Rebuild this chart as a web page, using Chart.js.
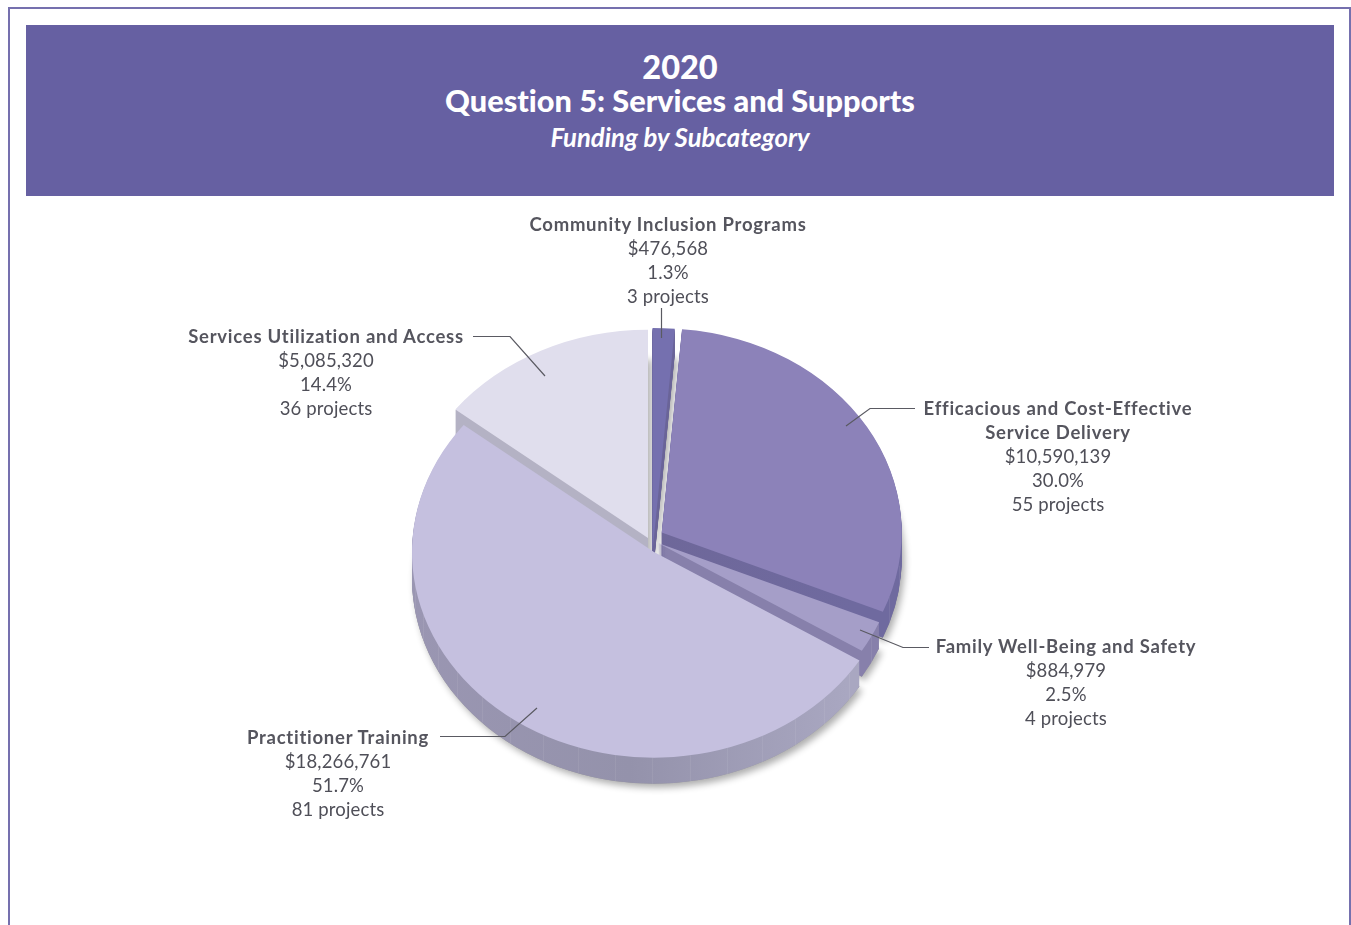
<!DOCTYPE html>
<html>
<head>
<meta charset="utf-8">
<title>2020 Question 5: Services and Supports</title>
<script src="https://cdn.jsdelivr.net/npm/chart.js@4"></script>
<style>
  html, body { margin:0; padding:0; background:#fff; }
  body { width:1351px; height:925px; position:relative; overflow:hidden; font-family:'Lato',sans-serif; color:#4f4f58; font-variant-ligatures:none; }
  #frame { position:absolute; left:8px; top:7px; width:1343px; height:930px; border:2px solid #7570ae; box-sizing:border-box; }
  #head { position:absolute; left:26px; top:25px; width:1308px; height:171px; background:#6660a2; color:#fff; text-align:center; }
  #head div { position:absolute; left:0; width:1308px; white-space:nowrap; }
  #chart { position:absolute; left:0; top:0; }
  .lbl { position:absolute; transform:translateX(-50%); text-align:center; font-size:18.5px; line-height:24px; white-space:nowrap; letter-spacing:0.15px; }
  .lbl b { font-weight:700; letter-spacing:0.75px; color:#55555e; }
</style>
</head>
<body>
<div id="frame"></div>
<div id="head">
  <div style="top:24px;font:900 32.5px/36px Lato,sans-serif;font-variant-ligatures:none">2020</div>
  <div style="top:58px;font:900 30.7px/36px Lato,sans-serif;font-variant-ligatures:none">Question 5: Services and Supports</div>
  <div style="top:94px;font:italic 700 25.7px/36px Lato,sans-serif;font-variant-ligatures:none">Funding by Subcategory</div>
</div>
<canvas id="chart" width="1351" height="925"></canvas>
<script>
const categories = ['Community Inclusion Programs','Efficacious and Cost-Effective Service Delivery','Family Well-Being and Safety','Practitioner Training','Services Utilization and Access'];
const funding    = [476568, 10590139, 884979, 18266761, 5085320];
const percents   = ['1.3%','30.0%','2.5%','51.7%','14.4%'];
const projects   = [3, 55, 4, 81, 36];

const topColors  = ['#7570af','#8c82b9','#a59ec8','#c5c0df','#e0deed'];
const sideColors = [
  ['#6a6498','#6a6498','#6a6498'],
  ['#6e6799','#6e6799','#6f6a9f'],
  ['#8780ab','#8780ab','#8780ab'],
  ['#9a96b2','#9492ab','#a9a7c1'],
  ['#b4b2c4','#b4b2c4','#b4b2c4'],
];

// page layout for each slice: apex on screen + radius, the picture is a tilted pie with exploded slices
const SQUASH = 0.85, DEPTH = 26, SEAM_STEP = Math.PI / 20;
const sliceGeom = [
  { x:652.5, y:551.5, r:263 },
  { x:661.7, y:532.5, r:240 },
  { x:658,   y:543,   r:240 },
  { x:654,   y:552,   r:242 },
  { x:648,   y:538,   r:245 },
];
const paintOrder = [4, 0, 1, 2, 3];

// leader lines and label anchors, all on screen
const leaders = [
  { tip:[661.5,338], elbow:[661.5,310], end:[661.5,308], lx:668,  ly:212, split:null },
  { tip:[846,426],   elbow:[870,408.5], end:[915,408.5], lx:1058, ly:396, split:'Service Delivery' },
  { tip:[860,630],   elbow:[903,647.5], end:[929,647.5], lx:1066, ly:634, split:null },
  { tip:[537,708],   elbow:[505,736.5], end:[440,736.5], lx:338,  ly:725, split:null },
  { tip:[545,376],   elbow:[510,336.5], end:[473,336.5], lx:326,  ly:324, split:null },
];

function wedge(ctx, a, dy) {
  const y = a.y + dy / SQUASH;
  ctx.beginPath();
  ctx.moveTo(a.x, y);
  ctx.arc(a.x, y, a.outerRadius, a.startAngle, a.endAngle);
  ctx.closePath();
}

// faint vertical seams on the front facing rim
function seams(ctx, a) {
  ctx.strokeStyle = 'rgba(255,255,255,0.08)';
  ctx.lineWidth = 1;
  for (let t = a.startAngle + SEAM_STEP / 2; t < a.endAngle; t += SEAM_STEP) {
    if (Math.sin(t) <= 0.05) continue;
    const x = Math.round(a.x + a.outerRadius * Math.cos(t)) + 0.5;
    const y = a.y + a.outerRadius * Math.sin(t);
    ctx.beginPath();
    ctx.moveTo(x, y);
    ctx.lineTo(x, y + DEPTH / SQUASH);
    ctx.stroke();
  }
}

const tiltedPie = {
  id: 'tiltedPie',
  beforeDatasetDraw(chart) {
    const ctx = chart.ctx, arcs = chart.getDatasetMeta(0).data;
    arcs.forEach((a, i) => {
      a.x = sliceGeom[i].x;
      a.y = sliceGeom[i].y / SQUASH;
      a.outerRadius = sliceGeom[i].r;
    });
    ctx.save();
    ctx.scale(1, SQUASH);

    // soft shadow under everything first
    ctx.save();
    ctx.shadowColor = 'rgba(0,0,0,0.32)';
    ctx.shadowBlur = 7;
    ctx.shadowOffsetX = 3;
    ctx.shadowOffsetY = 4;
    ctx.fillStyle = '#999';
    paintOrder.forEach(i => { wedge(ctx, arcs[i], DEPTH); ctx.fill(); });
    ctx.restore();

    paintOrder.forEach(i => {
      const a = arcs[i];
      const g = ctx.createLinearGradient(a.x - a.outerRadius, 0, a.x + a.outerRadius, 0);
      g.addColorStop(0, sideColors[i][0]);
      g.addColorStop(0.45, sideColors[i][1]);
      g.addColorStop(0.9, sideColors[i][2]);
      ctx.fillStyle = g;
      for (let d = DEPTH; d > 0; d--) { wedge(ctx, a, d); ctx.fill(); }
      seams(ctx, a);
      a.draw(ctx);
    });
    ctx.restore();

    // leader lines
    ctx.save();
    ctx.strokeStyle = '#5a5a62';
    ctx.lineWidth = 1.2;
    leaders.forEach(l => {
      ctx.beginPath();
      ctx.moveTo(l.tip[0], l.tip[1]);
      ctx.lineTo(l.elbow[0], l.elbow[1]);
      ctx.lineTo(l.end[0], l.end[1]);
      ctx.stroke();
    });
    ctx.restore();
    return false;
  }
};

new Chart(document.getElementById('chart'), {
  type: 'pie',
  data: { labels: categories, datasets: [{ data: funding, backgroundColor: topColors, borderWidth: 0 }] },
  options: {
    responsive: false,
    animation: false,
    plugins: { legend: { display: false }, tooltip: { enabled: false } },
  },
  plugins: [tiltedPie],
});

categories.forEach((name, i) => {
  const l = leaders[i];
  const el = document.createElement('div');
  el.className = 'lbl';
  el.style.left = l.lx + 'px';
  el.style.top = l.ly + 'px';
  const title = l.split ? name.replace(' ' + l.split, '<br>' + l.split) : name;
  el.innerHTML = `<b>${title}</b><br>$${funding[i].toLocaleString('en-US')}<br>${percents[i]}<br>${projects[i]} projects`;
  document.body.appendChild(el);
});
</script>
</body>
</html>
